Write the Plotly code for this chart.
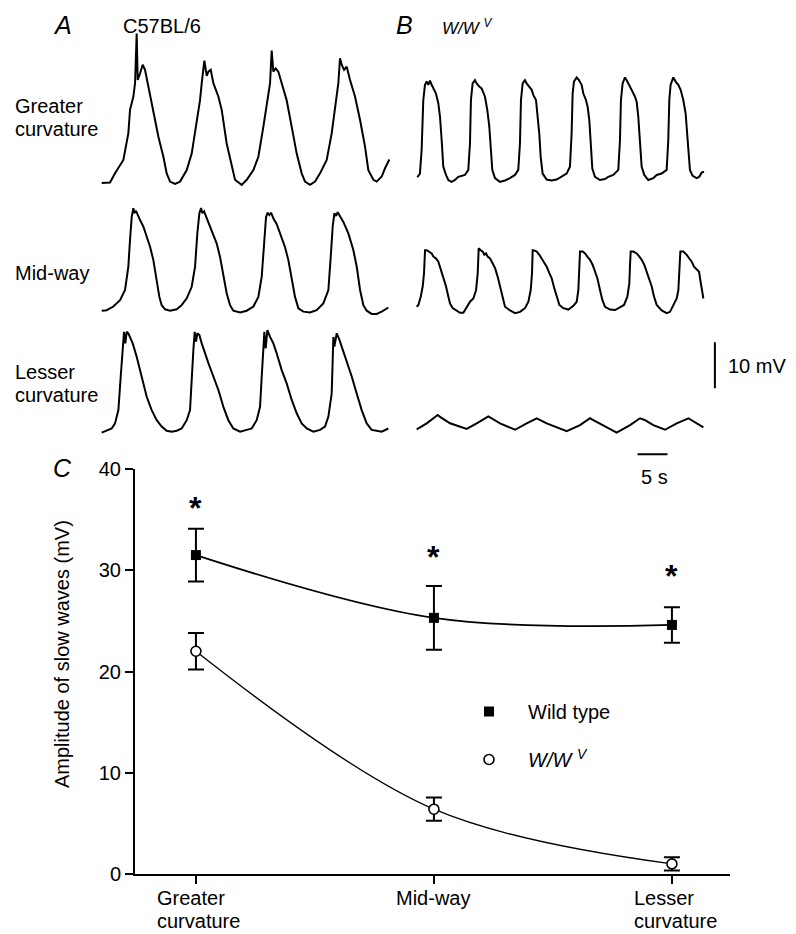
import plotly.graph_objects as go

W, H = 796, 934
FONT = "Liberation Sans, Arial, sans-serif"

# ---------------- Panel A / B: intracellular recordings (time s, mV above trough) ----------------
WT_GREATER = [(0, 0), (1.39, 0.1), (2.22, 2.1), (3.61, 5.0), (4.44, 10.8), (4.72, 15.9), (5.28, 18.8), (5.56, 21.7),
              (5.83, 32.5), (6.0, 22.4), (6.39, 23.8), (6.83, 25.7), (7.22, 24.6), (7.78, 20.9), (8.61, 15.9),
              (9.44, 10.1), (10.28, 5.7), (10.83, 2.1), (11.39, 0.3), (12.22, -0.2), (13.06, 0.3), (14.17, 2.8),
              (15.0, 6.4), (15.83, 13.7), (16.39, 18.0), (16.67, 21.7), (17.11, 26.6), (17.5, 23.3), (17.78, 24.2),
              (18.17, 24.6), (18.61, 21.7), (19.44, 18.8), (20.0, 15.9), (20.83, 8.6), (21.67, 3.6), (22.22, 0.7),
              (23.33, -0.4), (24.17, 0.7), (25.28, 2.8), (26.11, 5.7), (26.94, 12.2), (27.5, 16.6), (28.06, 21.7),
              (28.33, 28.8), (28.61, 24.2), (29.0, 24.9), (29.44, 24.2), (30.0, 21.7), (30.83, 18.0), (31.67, 12.2),
              (32.5, 6.4), (33.33, 2.1), (33.89, 0.3), (34.72, -0.4), (35.56, 0.3), (36.39, 2.1), (37.5, 5.0),
              (38.33, 10.8), (38.89, 16.6), (39.44, 21.7), (39.72, 27.1), (40.0, 25.7), (40.39, 24.6), (40.83, 25.3),
              (41.39, 22.4), (42.22, 18.8), (43.06, 13.7), (43.89, 7.9), (44.44, 2.8), (45.28, 0.7), (45.83, 0.3),
              (46.67, 1.4), (47.22, 3.2), (47.94, 5.1)]

WT_MID = [(0, 0), (0.83, 0.1), (1.94, 0.9), (3.06, 2.3), (3.89, 4.5), (4.44, 9.6), (4.72, 15.4), (5.0, 20.4),
          (5.28, 22.3), (5.44, 21.2), (5.72, 21.7), (6.0, 20.8), (6.39, 19.7), (6.94, 18.3), (7.5, 16.1), (8.06, 13.9),
          (8.61, 11.0), (9.17, 6.7), (9.61, 3.0), (10.0, 1.2), (10.56, 0.3), (11.39, 0), (12.5, 0.3), (13.33, 1.2),
          (14.17, 2.7), (15.0, 5.2), (15.56, 9.6), (15.94, 16.8), (16.28, 21.2), (16.56, 22.3), (16.78, 21.2),
          (17.06, 21.6), (17.5, 20.1), (18.06, 18.3), (18.61, 16.1), (19.17, 14.6), (19.72, 11.7), (20.28, 8.1),
          (20.83, 3.8), (21.39, 1.2), (21.94, 0), (23.06, -0.4), (24.17, 0), (25.28, 0.9), (26.11, 3.0), (26.67, 7.4),
          (27.06, 14.6), (27.39, 20.4), (27.67, 21.3), (27.94, 20.8), (28.22, 21.3), (28.61, 20.1), (29.17, 18.8),
          (29.72, 16.7), (30.56, 13.8), (31.11, 11.0), (31.67, 6.7), (32.22, 3.0), (32.78, 0.5), (33.61, -0.2),
          (34.72, -0.4), (35.83, 0.1), (36.94, 1.6), (37.78, 4.5), (38.17, 11.7), (38.5, 18.3), (38.78, 21.2),
          (39.06, 20.6), (39.33, 21.4), (39.72, 20.4), (40.28, 19.3), (41.11, 16.8), (41.94, 13.2), (42.5, 9.6),
          (43.06, 4.5), (43.61, 1.2), (44.17, 0), (45.0, -0.7), (45.83, -0.7), (46.67, -0.2), (47.78, 0.7)]

WT_LESSER = [(0, -0.2), (0.83, 0.2), (1.67, 0.7), (2.22, 1.8), (2.78, 4.7), (3.17, 12.0), (3.44, 17.8), (3.72, 21.7),
             (3.94, 19.2), (4.17, 21.7), (4.44, 21.4), (4.72, 20.6), (5.17, 19.2), (5.83, 16.3), (6.39, 13.4),
             (6.94, 10.5), (7.5, 7.6), (8.33, 4.7), (9.17, 2.5), (10.0, 1.1), (10.83, 0.2), (11.67, 0), (12.5, 0.2),
             (13.33, 0.7), (14.17, 2.5), (14.72, 4.7), (15.0, 12.0), (15.28, 17.8), (15.5, 21.7), (15.72, 19.6),
             (15.94, 21.4), (16.28, 21.0), (16.67, 19.2), (17.22, 17.0), (17.78, 14.9), (18.61, 12.0), (19.44, 9.1),
             (20.28, 5.4), (21.11, 2.5), (21.94, 0.7), (23.06, 0), (24.17, 0.4), (25.0, 0.7), (25.83, 2.5),
             (26.39, 5.4), (26.67, 12.0), (26.94, 18.5), (27.11, 21.7), (27.33, 18.1), (27.61, 22.1), (28.06, 20.6),
             (28.61, 19.2), (29.17, 17.0), (30.0, 13.4), (30.83, 10.5), (31.67, 6.9), (32.5, 4.0), (33.33, 1.8),
             (34.17, 0.7), (35.28, 0), (36.39, 0.4), (37.22, 1.1), (37.78, 3.3), (38.33, 8.3), (38.5, 15.6),
             (38.61, 20.6), (38.78, 18.5), (39.17, 21.4), (39.61, 20.0), (40.0, 18.5), (40.83, 15.6), (41.67, 12.0),
             (42.5, 8.3), (43.33, 4.7), (44.17, 1.8), (45.0, 0.4), (45.83, 0.2), (46.67, 0), (47.78, 0.7)]

WWV_GREATER = [(0, 0.6), (0.44, 1.4), (0.72, 6.5), (1.0, 17.4), (1.28, 20.7), (1.56, 21.4), (1.83, 20.7), (2.11, 21.6),
               (2.39, 20.7), (2.67, 20.0), (3.11, 18.8), (3.5, 16.7), (3.78, 13.8), (4.06, 8.7), (4.33, 2.9),
               (4.78, 1.1), (5.17, 0), (5.72, -0.4), (6.28, 0), (6.83, 0.7), (7.39, 0.9), (7.94, 1.1), (8.5, 2.2),
               (8.78, 8.0), (8.94, 17.4), (9.22, 21.0), (9.61, 21.7), (9.89, 21.0), (10.33, 20.3), (10.72, 19.9),
               (11.28, 18.1), (11.67, 15.2), (12.0, 11.6), (12.22, 6.5), (12.5, 2.2), (12.94, 0.4), (13.78, -0.4),
               (14.61, -0.1), (15.44, 0.4), (16.28, 1.1), (16.83, 2.2), (17.11, 8.0), (17.28, 17.4), (17.56, 21.0),
               (17.94, 21.7), (18.22, 21.0), (18.67, 20.3), (19.06, 19.6), (19.33, 18.5), (19.78, 17.4), (20.0, 14.5),
               (20.33, 10.1), (20.56, 5.1), (20.89, 1.4), (21.56, 0.1), (22.39, -0.1), (23.22, 0.1), (24.06, 0.7),
               (24.89, 1.4), (25.44, 2.9), (25.72, 10.1), (25.89, 18.8), (26.11, 21.4), (26.56, 22.3), (26.94, 21.7),
               (27.39, 20.7), (27.67, 18.8), (28.11, 17.4), (28.39, 15.9), (28.67, 13.0), (28.89, 7.2), (29.17, 2.5),
               (29.61, 0.7), (30.44, 0), (31.28, 0.2), (31.83, 0.7), (32.67, 1.1), (33.5, 2.2), (33.78, 8.7),
               (33.94, 17.4), (34.22, 21.0), (34.61, 22.3), (34.89, 21.7), (35.33, 20.7), (35.72, 19.6), (36.28, 18.1),
               (36.56, 17.0), (36.83, 13.8), (37.11, 8.0), (37.39, 2.9), (37.83, 1.1), (38.5, 0), (39.33, 0.4),
               (39.89, 1.1), (40.72, 1.4), (41.56, 2.2), (41.83, 8.7), (42.0, 17.4), (42.22, 20.7), (42.67, 22.3),
               (43.06, 21.4), (43.5, 20.7), (43.89, 19.6), (44.33, 17.4), (44.72, 14.5), (45.0, 10.1), (45.22, 5.1),
               (45.44, 2.2), (45.89, 0.9), (46.56, 0.4), (47.0, 0.7), (47.39, 1.6), (47.78, 1.8)]

WWV_MID = [(0, 0.7), (0.28, 1.1), (0.67, 2.9), (1.0, 5.1), (1.22, 8.0), (1.39, 13.0), (1.67, 13.0), (2.11, 12.7),
           (2.5, 12.3), (2.78, 11.6), (3.22, 11.2), (3.61, 10.5), (3.89, 9.4), (4.17, 8.0), (4.56, 6.5), (4.89, 5.1),
           (5.28, 2.9), (5.56, 1.4), (6.0, 0.4), (6.67, -0.1), (7.22, -0.6), (7.78, -0.6), (8.33, 0.7), (8.89, 1.8),
           (9.44, 2.5), (9.89, 4.3), (10.17, 8.0), (10.33, 13.4), (10.67, 13.0), (11.0, 12.7), (11.28, 12.0),
           (11.56, 12.3), (11.83, 11.6), (12.22, 11.2), (12.67, 10.1), (13.06, 9.1), (13.5, 7.2), (13.89, 5.1),
           (14.33, 2.2), (14.72, 0.7), (15.56, -0.1), (16.39, -0.7), (17.22, -0.4), (18.06, 0.4), (18.61, 1.8),
           (19.0, 4.3), (19.22, 8.0), (19.33, 13.0), (19.72, 12.9), (20.0, 12.7), (20.44, 12.0), (20.83, 11.2),
           (21.22, 10.5), (21.67, 9.4), (22.11, 8.0), (22.5, 6.9), (22.94, 4.7), (23.33, 2.9), (23.78, 1.1),
           (24.44, 0.4), (25.28, 0.1), (26.11, 0.9), (26.67, 1.8), (26.94, 4.3), (27.11, 8.0), (27.22, 12.7),
           (27.67, 12.7), (28.06, 12.3), (28.44, 11.6), (28.89, 10.9), (29.33, 9.8), (29.72, 8.3), (30.11, 6.9),
           (30.56, 4.3), (30.94, 2.2), (31.39, 0.7), (32.22, 0.1), (33.06, 0), (33.89, 0.6), (34.56, 1.1),
           (35.11, 2.9), (35.44, 5.8), (35.56, 10.1), (35.67, 12.7), (36.11, 12.7), (36.67, 12.3), (37.11, 11.6),
           (37.5, 10.9), (37.94, 9.8), (38.33, 8.3), (38.78, 6.9), (39.17, 5.1), (39.56, 2.9), (40.0, 1.1),
           (40.83, -0.1), (41.67, -0.7), (42.22, -0.4), (42.78, 1.1), (43.33, 2.5), (43.61, 4.3), (43.78, 8.0),
           (43.94, 12.7), (44.44, 12.7), (45.0, 12.0), (45.44, 11.2), (45.83, 10.5), (46.22, 9.4), (46.67, 8.7),
           (47.06, 8.3), (47.22, 6.9), (47.5, 5.1), (47.78, 2.5)]

WWV_LESSER = [(0, 0), (1.67, 1.3), (3.5, 3.1), (3.89, 2.7), (5.56, 1.3), (8.33, 0.1), (10.0, 1.3), (11.94, 2.8),
              (13.89, 1.3), (16.39, -0.1), (18.33, 1.3), (20.0, 2.4), (21.67, 1.3), (25.0, -0.4), (27.22, 0.9),
              (28.89, 2.4), (29.44, 2.0), (31.11, 0.9), (33.33, -0.7), (35.56, 0.9), (37.22, 2.4), (38.06, 2.0),
              (39.44, 0.9), (41.39, -0.1), (43.33, 1.3), (45.28, 2.4), (46.11, 1.7), (47.78, 0.4)]

# ---------------- Panel C: amplitude of slow waves ----------------
SITES = ["Greater curvature", "Mid-way", "Lesser curvature"]
WT_MEAN = [31.5, 25.3, 24.6]
WT_SEM = [2.6, 3.15, 1.75]
WWV_MEAN = [22.0, 6.4, 1.0]
WWV_SEM = [1.8, 1.15, 0.65]
Y_TICKS = [0, 10, 20, 30, 40]
STARS = [36.8, 32.0, 30.1]

# ---------------- layout helpers ----------------
SX, SY = 6.0, 4.6          # px per second, px per mV for the recordings
T_RANGE = [-1, 52]
V_RANGE = [-8, 34]
OX, OY = 8, 8              # page (body) offset of the figure


def px(x):
    return (x - OX) / W


def py(y):
    return 1 - (y - OY) / H


fig = go.Figure()
layout = dict(
    width=W, height=H, margin=dict(l=0, r=0, t=0, b=0, autoexpand=False),
    paper_bgcolor="white", plot_bgcolor="rgba(0,0,0,0)",
    font=dict(family=FONT, size=20, color="black"),
)

trace_specs = [
    (WT_GREATER, 101.7, 183.0),
    (WT_MID, 101.7, 310.7),
    (WT_LESSER, 101.7, 431.7),
    (WWV_GREATER, 417.3, 180.0),
    (WWV_MID, 416.7, 310.0),
    (WWV_LESSER, 416.7, 429.3),
]
for i, (rec, x0, yb) in enumerate(trace_specs):
    k = i + 2
    t = [p[0] for p in rec]
    v = [p[1] for p in rec]
    fig.add_trace(go.Scatter(x=t, y=v, mode="lines", xaxis=f"x{k}", yaxis=f"y{k}",
                             line=dict(color="black", width=2), showlegend=False, hoverinfo="skip"))
    layout[f"xaxis{k}"] = dict(domain=[px(x0 + T_RANGE[0] * SX), px(x0 + T_RANGE[1] * SX)],
                               range=T_RANGE, visible=False, anchor=f"y{k}")
    layout[f"yaxis{k}"] = dict(domain=[py(yb - V_RANGE[0] * SY), py(yb - V_RANGE[1] * SY)],
                               range=V_RANGE, visible=False, anchor=f"x{k}")

# scale bars (10 mV, 5 s) in the W/Wv lesser-curvature recording axes
shapes = [
    dict(type="line", xref="x7", yref="y7", x0=49.7, x1=49.7, y0=8.9, y1=18.9,
         line=dict(color="black", width=2)),
    dict(type="line", xref="x7", yref="y7", x0=36.8, x1=41.8, y0=-5.4, y1=-5.4,
         line=dict(color="black", width=2)),
]

# ---------------- panel C traces ----------------
xs = list(range(len(SITES)))
fig.add_trace(go.Scatter(x=xs, y=WT_MEAN, mode="lines", line=dict(color="black", width=1.8, shape="spline"),
                         showlegend=False, hoverinfo="skip"))
fig.add_trace(go.Scatter(x=xs, y=WWV_MEAN, mode="lines", line=dict(color="black", width=1.3, shape="spline"),
                         showlegend=False, hoverinfo="skip"))
fig.add_trace(go.Scatter(x=xs, y=WT_MEAN, mode="markers", name="Wild type", legendgroup="wt",
                         marker=dict(symbol="square", size=10, color="black"),
                         error_y=dict(type="data", array=WT_SEM, visible=True, thickness=2, width=8, color="black")))
fig.add_trace(go.Scatter(x=xs, y=WWV_MEAN, mode="markers", name="<i>W/W </i><sup><i>V</i></sup>", legendgroup="wwv",
                         marker=dict(symbol="circle", size=10, color="white", line=dict(color="black", width=1.6)),
                         error_y=dict(type="data", array=WWV_SEM, visible=True, thickness=2, width=8, color="black")))

layout["xaxis"] = dict(domain=[px(135), px(730)], range=[-0.256, 2.244], showline=True, linecolor="black",
                       linewidth=2, ticks="outside", ticklen=8, tickwidth=2, tickcolor="black",
                       tickvals=xs, showticklabels=False, showgrid=False, zeroline=False, anchor="y")
layout["yaxis"] = dict(domain=[py(874), py(469)], range=[0, 40], showline=True, linecolor="black",
                       linewidth=2, ticks="outside", ticklen=8, tickwidth=2, tickcolor="black",
                       tickvals=Y_TICKS, tickfont=dict(size=20), showgrid=False, zeroline=False, anchor="x")
layout["showlegend"] = True
layout["legend"] = dict(x=px(450), y=py(692), xanchor="left", yanchor="top", font=dict(size=20),
                        tracegroupgap=19, bgcolor="rgba(0,0,0,0)", itemwidth=68)


def txt(text, x, y, size=20, xanchor="left", italic=False, **kw):
    if italic:
        text = f"<i>{text}</i>"
    return dict(text=text, x=px(x), y=py(y), xref="paper", yref="paper", xanchor=xanchor, yanchor="middle",
                showarrow=False, font=dict(size=size, family=FONT, color="black"), **kw)


annotations = [
    txt("A", 62, 25, size=25, xanchor="center", italic=True),
    txt("C57BL/6", 162, 26, xanchor="center"),
    txt("B", 404, 25, size=25, xanchor="center", italic=True),
    txt("<i>W/W </i><sup><i>V</i></sup>", 468, 27, size=17, xanchor="center"),
    txt("C", 63, 468, size=25, xanchor="center", italic=True),
    txt("Greater", 13, 105.5),
    txt("curvature", 13, 129),
    txt("Mid-way", 13, 273),
    txt("Lesser", 13, 371.7),
    txt("curvature", 13, 394.5),
    txt("10 mV", 726, 365.5),
    txt("5 s", 654.5, 476.5, xanchor="center"),
    txt("Amplitude of slow waves (mV)", 62, 654, xanchor="center", textangle=-90),
    # category labels
    txt("Greater", 155, 898),
    txt("curvature", 155, 921),
    txt("Mid-way", 433, 898, xanchor="center"),
    txt("Lesser", 632, 898),
    txt("curvature", 632, 921),
]
for xi, sy in zip(xs, STARS):
    annotations.append(dict(text="<b>*</b>", x=xi, y=sy, xref="x", yref="y", showarrow=False,
                            xanchor="center", yanchor="middle", yshift=-7,
                            font=dict(size=32, family=FONT, color="black")))

layout["annotations"] = annotations
layout["shapes"] = shapes
fig.update_layout(**layout)
fig.write_html("out.html")
